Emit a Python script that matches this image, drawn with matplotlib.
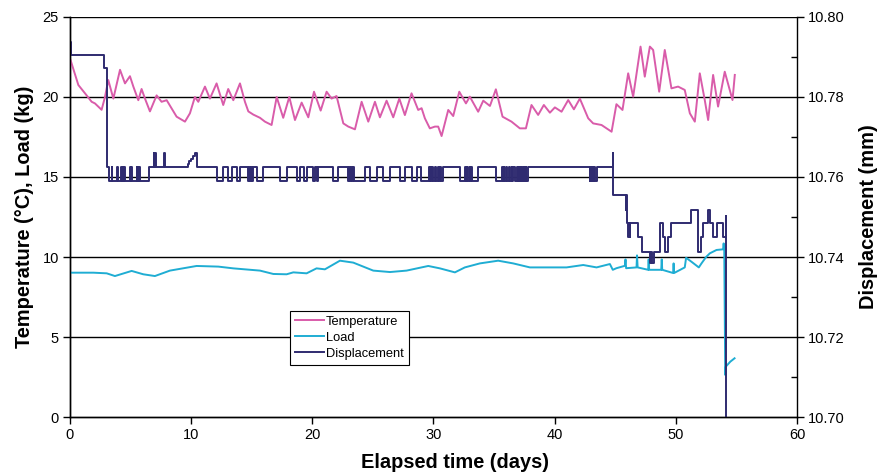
import matplotlib
matplotlib.use("Agg")
import matplotlib.pyplot as plt
from matplotlib.ticker import MultipleLocator, FormatStrFormatter

plt.rcParams['font.family'] = ['Liberation Sans', 'DejaVu Sans']

# temperature (deg C) against elapsed time (days)
temp_days = [0.05, 0.69, 1.24, 1.79, 2.06, 2.61, 2.89, 3.16, 3.58, 4.13, 4.54, 4.95, 5.23, 5.64,
             5.91, 6.19, 6.6, 7.15, 7.56, 7.98, 8.8, 9.49, 9.9, 10.31, 10.59, 11.14, 11.55, 12.1,
             12.65, 13.06, 13.48, 14.03, 14.44, 14.72, 15.13, 15.68, 16.09, 16.64, 17.06, 17.6,
             18.1, 18.57, 19.12, 19.67, 20.14, 20.69, 21.18, 21.59, 22.0, 22.56, 22.97, 23.52,
             24.07, 24.62, 25.17, 25.58, 26.13, 26.68, 27.18, 27.64, 28.19, 28.74, 29.02, 29.29,
             29.7, 30.12, 30.39, 30.67, 31.22, 31.63, 32.13, 32.68, 33.0, 33.69, 34.11, 34.66,
             35.15, 35.7, 36.44, 37.13, 37.63, 38.09, 38.64, 39.11, 39.61, 40.02, 40.57, 41.12,
             41.59, 42.08, 42.77, 43.18, 43.87, 44.7, 45.1, 45.6, 46.07, 46.48, 47.09, 47.44,
             47.86, 48.13, 48.63, 49.09, 49.64, 50.19, 50.74, 51.16, 51.57, 51.98, 52.39, 52.67,
             53.08, 53.49, 54.04, 54.68, 54.87]
temp_vals = [22.3, 20.75, 20.23, 19.7, 19.6, 19.2, 20.0, 21.06, 19.9, 21.7, 20.85, 21.3, 20.65, 19.8,
             20.5, 19.9, 19.1, 20.1, 19.7, 19.8, 18.77, 18.46, 18.98, 20.0, 19.7, 20.65, 19.9, 20.85,
             19.5, 20.5, 19.8, 20.85, 19.7, 19.1, 18.9, 18.7, 18.46, 18.25, 20.0, 18.7,
             20.0, 18.56, 19.65, 18.73, 20.33, 19.15, 20.33, 19.9, 20.06, 18.35, 18.15, 17.98,
             19.7, 18.46, 19.7, 18.73, 19.77, 18.73, 19.9, 18.87, 20.23, 19.19, 19.3, 18.67,
             18.04, 18.15, 18.15, 17.56, 19.19, 18.81, 20.33, 19.6, 20.02, 19.08, 19.77, 19.44,
             20.48, 18.77, 18.46, 18.04, 18.04, 19.5, 18.88, 19.5, 19.02, 19.35, 19.08, 19.81,
             19.23, 19.9, 18.67, 18.35, 18.25, 17.83, 19.55, 19.19, 21.48, 20.02, 23.15, 21.27,
             23.15, 22.94, 20.33, 22.94, 20.54, 20.65, 20.44, 18.98, 18.46, 21.48, 19.81, 18.56,
             21.38, 19.4, 21.58, 19.81, 21.38]

# load (kg)
load_days = [0.0, 1.93, 3.03, 3.71, 5.09, 6.05, 7.01, 8.25, 10.45, 12.24, 13.48, 15.68, 16.78,
             17.88, 18.43, 19.53, 20.35, 21.04, 22.28, 23.38, 25.03, 26.41, 27.78, 29.57, 30.53,
             31.77, 32.59, 33.83, 35.34, 36.58, 37.96, 39.33, 40.98, 42.36, 43.46, 44.56, 44.8,
             45.1, 45.8, 45.85, 45.9, 46.76, 46.8, 46.85, 47.72, 47.76, 47.8, 48.8, 48.84, 48.88,
             49.78, 49.82, 49.86, 50.74, 50.85, 51.3, 51.9, 52.12, 52.5, 52.81, 53.36, 53.9,
             53.95, 54.0, 54.08, 54.13, 54.5, 54.85]
load_vals = [9.02, 9.02, 8.98, 8.81, 9.13, 8.92, 8.81, 9.15, 9.44, 9.4, 9.29, 9.15, 8.94,
             8.92, 9.04, 8.98, 9.29, 9.23, 9.77, 9.65, 9.15, 9.06, 9.15, 9.44, 9.29,
             9.04, 9.35, 9.6, 9.77, 9.6, 9.35, 9.35, 9.35, 9.5, 9.35, 9.56, 9.2,
             9.3, 9.45, 9.85, 9.3, 9.35, 10.1, 9.35, 9.2, 9.85, 9.2, 9.2, 9.85, 9.2,
             9.0, 9.6, 9.0, 9.35, 9.95, 9.7, 9.35, 9.6, 10.0, 10.23, 10.44, 10.48,
             10.85, 10.45, 2.63, 3.15, 3.46, 3.67]

# displacement (mm): (day, new reading) each time the gauge reading changes
disp_steps = [
    (0.0, 10.7938), (0.12, 10.7905), (2.8, 10.7872), (3.05, 10.7625),
    (3.2, 10.759), (3.45, 10.7625), (3.5, 10.759), (3.9, 10.7625), (3.95, 10.759),
    (4.25, 10.7625), (4.3, 10.759), (4.35, 10.7625), (4.4, 10.759), (4.45, 10.7625), (4.5, 10.759),
    (4.95, 10.7625), (5.0, 10.759), (5.05, 10.7625), (5.1, 10.759),
    (5.5, 10.7625), (5.55, 10.759), (5.6, 10.7625), (5.65, 10.759), (5.7, 10.7625), (5.75, 10.759),
    (6.55, 10.7625), (6.9, 10.766), (6.95, 10.7625), (7.0, 10.766), (7.1, 10.7625),
    (7.75, 10.766), (7.85, 10.7625),
    (9.7, 10.7632), (9.85, 10.7639), (10.0, 10.7646), (10.15, 10.7653), (10.3, 10.766),
    (10.45, 10.7625),
    (12.1, 10.759), (12.65, 10.7625), (13.06, 10.759), (13.34, 10.7625), (13.75, 10.759),
    (14.03, 10.7625), (14.71, 10.759), (14.8, 10.7625), (14.85, 10.759), (14.95, 10.7625),
    (15.0, 10.759), (15.13, 10.7625), (15.4, 10.759), (15.95, 10.7625), (17.33, 10.759),
    (17.88, 10.7625), (18.7, 10.759), (18.98, 10.7625), (19.31, 10.759), (19.53, 10.7625),
    (20.08, 10.759), (20.2, 10.7625), (20.35, 10.759), (20.45, 10.7625),
    (21.73, 10.759), (22.14, 10.7625),
    (22.96, 10.759), (23.05, 10.7625), (23.1, 10.759), (23.2, 10.7625), (23.25, 10.759),
    (23.35, 10.7625), (23.4, 10.759),
    (24.34, 10.7625), (24.75, 10.759), (25.3, 10.7625), (25.85, 10.759), (26.4, 10.7625),
    (27.23, 10.759), (27.64, 10.7625), (28.19, 10.759), (28.6, 10.7625), (29.0, 10.759),
    (29.65, 10.7625), (29.7, 10.759), (29.75, 10.7625), (29.8, 10.759), (29.85, 10.7625),
    (29.95, 10.759), (30.1, 10.7625), (30.25, 10.759), (30.4, 10.7625), (30.45, 10.759),
    (30.55, 10.7625), (30.6, 10.759), (30.8, 10.7625),
    (32.18, 10.759), (32.59, 10.7625), (32.65, 10.759), (32.75, 10.7625), (32.8, 10.759),
    (32.9, 10.7625), (33.0, 10.759), (33.1, 10.7625), (33.2, 10.759), (33.69, 10.7625),
    (35.2, 10.759), (35.62, 10.7625), (35.7, 10.759), (35.8, 10.7625), (35.85, 10.759),
    (36.0, 10.7625), (36.1, 10.759), (36.2, 10.7625), (36.3, 10.759), (36.45, 10.7625),
    (36.5, 10.759), (36.6, 10.7625), (36.7, 10.759), (36.9, 10.7625), (36.95, 10.759),
    (37.0, 10.7625), (37.05, 10.759), (37.1, 10.7625), (37.15, 10.759), (37.2, 10.7625),
    (37.25, 10.759), (37.3, 10.7625), (37.35, 10.759), (37.45, 10.7625), (37.5, 10.759),
    (37.6, 10.7625), (37.65, 10.759), (37.82, 10.7625),
    (42.9, 10.759), (42.95, 10.7625), (43.0, 10.759), (43.05, 10.7625), (43.1, 10.759),
    (43.15, 10.7625), (43.2, 10.759), (43.25, 10.7625), (43.3, 10.759), (43.46, 10.7625),
    (44.78, 10.766), (44.82, 10.7555),
    (45.88, 10.7518), (45.92, 10.7555), (45.96, 10.7518), (46.0, 10.7485), (46.07, 10.7451),
    (46.12, 10.7485), (46.18, 10.7451), (46.24, 10.7485),
    (46.9, 10.7451), (47.17, 10.7413), (47.86, 10.7384), (47.95, 10.7413), (48.05, 10.7384),
    (48.18, 10.7413), (48.68, 10.7485), (48.96, 10.7451), (49.09, 10.7413), (49.37, 10.7451),
    (49.64, 10.7485), (51.29, 10.7518), (51.84, 10.7413), (52.12, 10.7451), (52.26, 10.7485),
    (52.67, 10.7518), (52.86, 10.7485), (53.08, 10.7451), (53.36, 10.7485), (53.9, 10.7451),
    (54.13, 10.7502), (54.15, 10.70),
]
disp_days = [d for d, _ in disp_steps]
disp_vals = [v for _, v in disp_steps]

fig = plt.figure(figsize=(8.78, 4.72), dpi=100)
ax = fig.add_axes([0.0797, 0.1165, 0.828, 0.8475])
ax2 = ax.twinx()

pink = '#D95CAA'
cyan = '#1FADD3'
navy = '#2F2B70'

l1, = ax.plot(temp_days, temp_vals, color=pink, lw=1.4, label='Temperature', zorder=3)
l2, = ax.plot(load_days, load_vals, color=cyan, lw=1.4, label='Load', zorder=3)
l3, = ax2.plot(disp_days, disp_vals, color=navy, lw=1.4, drawstyle='steps-post',
               label='Displacement')

ax.set_xlim(0, 60)
ax.set_ylim(0, 25)
ax2.set_ylim(10.70, 10.80)

ax.xaxis.set_major_locator(MultipleLocator(10))
ax.yaxis.set_major_locator(MultipleLocator(5))
ax2.yaxis.set_major_locator(MultipleLocator(0.02))
ax2.yaxis.set_minor_locator(MultipleLocator(0.01))
ax2.yaxis.set_major_formatter(FormatStrFormatter('%.2f'))

# horizontal grid, the one at 25 doubles as the top border
for y in [5, 10, 15, 20, 25]:
    ax.axhline(y, color='black', lw=1.0, zorder=1)

for a in (ax, ax2):
    a.spines['top'].set_visible(False)
    for s in a.spines.values():
        s.set_linewidth(1.0)
ax.spines['right'].set_visible(False)

ax.tick_params(axis='both', direction='out', length=5, width=1, labelsize=10.5, pad=3)
ax2.tick_params(axis='y', which='major', direction='out', length=5, width=1, labelsize=10.5, pad=3)
ax2.tick_params(axis='y', which='minor', direction='in', length=4, width=1)

ax.set_xlabel('Elapsed time (days)', fontsize=14.4, fontweight='bold')
ax.xaxis.set_label_coords(0.53, -0.09)
ax.set_ylabel('Temperature (°C), Load (kg)', fontsize=14.4, fontweight='bold', labelpad=6)
ax2.set_ylabel('Displacement (mm)', fontsize=14.4, fontweight='bold', labelpad=10)

leg = ax2.legend(handles=[l1, l2, l3], loc='lower left', bbox_to_anchor=(0.3026, 0.13),
                 fontsize=9.3, frameon=True, fancybox=False, framealpha=1, edgecolor='black',
                 handlelength=2.2, handletextpad=0.2, borderpad=0.4, labelspacing=0.3,
                 borderaxespad=0)
leg.get_frame().set_linewidth(0.8)

fig.savefig('out.png', dpi=100)
